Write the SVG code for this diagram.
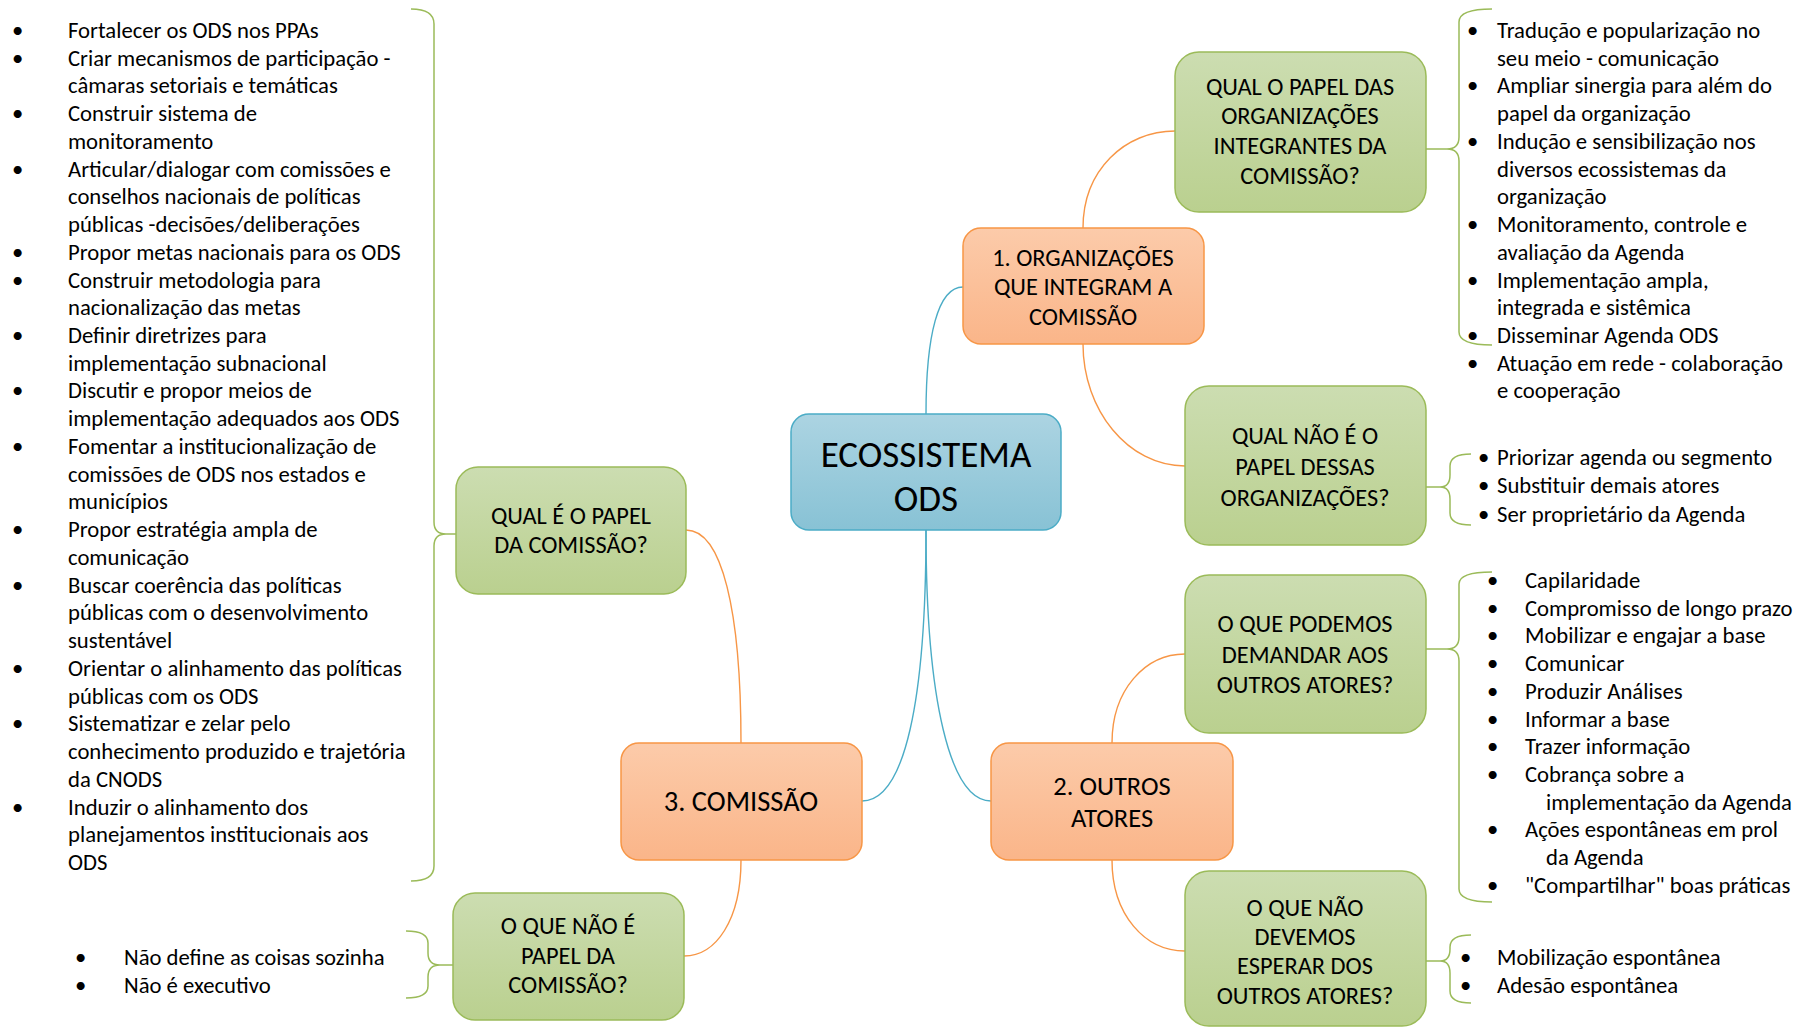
<svg xmlns="http://www.w3.org/2000/svg" width="1802" height="1028" viewBox="0 0 1802 1028">
<defs>
<linearGradient id="gGreen" x1="0" y1="0" x2="0" y2="1"><stop offset="0" stop-color="#CCDDB1"/><stop offset="1" stop-color="#BAD08F"/></linearGradient>
<linearGradient id="gOrange" x1="0" y1="0" x2="0" y2="1"><stop offset="0" stop-color="#FCCBAA"/><stop offset="1" stop-color="#FAB589"/></linearGradient>
<linearGradient id="gBlue" x1="0" y1="0" x2="0" y2="1"><stop offset="0" stop-color="#ACD4E2"/><stop offset="1" stop-color="#88C2D5"/></linearGradient>
<style>
text{font-family:Carlito,Lato,"Liberation Sans",sans-serif;fill:#000}
.g{fill:url(#gGreen);stroke:#9BBB59;stroke-width:1.5}
.o{fill:url(#gOrange);stroke:#F79646;stroke-width:1.5}
.b{fill:url(#gBlue);stroke:#4BACC6;stroke-width:1.5}
.lbl{font-size:24.4px;text-anchor:middle}
.lb{font-size:22.7px}
.cb{fill:none;stroke:#4BACC6;stroke-width:1.4}
.co{fill:none;stroke:#F79646;stroke-width:1.4}
.br{fill:none;stroke:#9BBB59;stroke-width:1.5}
</style>
</defs>
<rect width="1802" height="1028" fill="#fff"/>

<g id="connectors">
<path class="cb" d="M926 414 C926 335 938 287 963 287"/>
<path class="cb" d="M926 530 C926 700 905 801 862 801"/>
<path class="cb" d="M926 530 C926 700 950 801 991 801"/>
<path class="co" d="M1083 228 C1083 170 1125 131 1175 131"/>
<path class="co" d="M1083 344 C1083 410 1128 466 1185 466"/>
<path class="co" d="M1112 743 C1112 690 1145 654 1185 654"/>
<path class="co" d="M1112 860 C1112 915 1145 951 1185 951"/>
<path class="co" d="M741 743 C741 610 722 530 686 530"/>
<path class="co" d="M741 860 C741 920 716 956 684 956"/>
</g>

<g id="braces">
<path class="br" d="M411 9 Q434 9 434 24 L434 522 Q434 534 446 534 Q434 534 434 546 L434 866 Q434 881 411 881 M446 534 L456 534"/>
<path class="br" d="M406 931 Q428 931 428 943 L428 953 Q428 965 440 965 Q428 965 428 977 L428 986 Q428 998 406 998 M440 965 L453 965"/>
<path class="br" d="M1492 9 Q1459 9 1459 22 L1459 137 Q1459 149 1447 149 Q1459 149 1459 161 L1459 332 Q1459 345 1492 345 M1447 149 L1426 149"/>
<path class="br" d="M1471 454 Q1450 454 1450 466 L1450 475 Q1450 487 1440 487 Q1450 487 1450 499 L1450 513 Q1450 525 1471 525 M1440 487 L1426 487"/>
<path class="br" d="M1492 572 Q1459 572 1459 584 L1459 637 Q1459 649 1447 649 Q1459 649 1459 661 L1459 889 Q1459 902 1492 902 M1447 649 L1426 649"/>
<path class="br" d="M1471 935 Q1450 935 1450 947 L1450 949 Q1450 961 1440 961 Q1450 961 1450 973 L1450 991 Q1450 1003 1471 1003 M1440 961 L1426 961"/>
</g>

<g id="eco">
<rect class="b" x="791" y="414" width="270" height="116" rx="18"/>
<text x="926" y="467" style="font-size:37px;text-anchor:middle">ECOSSISTEMA</text>
<text x="926" y="511" style="font-size:37px;text-anchor:middle">ODS</text>
</g>

<g id="org">
<rect class="o" x="963" y="228" width="241" height="116" rx="18"/>
<text class="lbl" x="1083" y="266">1. ORGANIZAÇÕES</text>
<text class="lbl" x="1083" y="295">QUE INTEGRAM A</text>
<text class="lbl" x="1083" y="325">COMISSÃO</text>
</g>

<g id="papel-org">
<rect class="g" x="1175" y="52" width="251" height="160" rx="24"/>
<text class="lbl" x="1300" y="95">QUAL O PAPEL DAS</text>
<text class="lbl" x="1300" y="124">ORGANIZAÇÕES</text>
<text class="lbl" x="1300" y="154">INTEGRANTES DA</text>
<text class="lbl" x="1300" y="184">COMISSÃO?</text>
</g>

<g id="nao-papel-org">
<rect class="g" x="1185" y="386" width="241" height="159" rx="24"/>
<text class="lbl" x="1305" y="444">QUAL NÃO É O</text>
<text class="lbl" x="1305" y="475">PAPEL DESSAS</text>
<text class="lbl" x="1305" y="506">ORGANIZAÇÕES?</text>
</g>

<g id="outros">
<rect class="o" x="991" y="743" width="242" height="117" rx="18"/>
<text x="1112" y="795" style="font-size:26.5px;text-anchor:middle">2. OUTROS</text>
<text x="1112" y="827" style="font-size:26.5px;text-anchor:middle">ATORES</text>
</g>

<g id="demandar">
<rect class="g" x="1185" y="575" width="241" height="158" rx="24"/>
<text class="lbl" x="1305" y="632">O QUE PODEMOS</text>
<text class="lbl" x="1305" y="663">DEMANDAR AOS</text>
<text class="lbl" x="1305" y="693">OUTROS ATORES?</text>
</g>

<g id="nao-esperar">
<rect class="g" x="1185" y="871" width="241" height="155" rx="24"/>
<text class="lbl" x="1305" y="916">O QUE NÃO</text>
<text class="lbl" x="1305" y="945">DEVEMOS</text>
<text class="lbl" x="1305" y="974">ESPERAR DOS</text>
<text class="lbl" x="1305" y="1004">OUTROS ATORES?</text>
</g>

<g id="comissao">
<rect class="o" x="621" y="743" width="241" height="117" rx="18"/>
<text x="741" y="811" style="font-size:28.5px;text-anchor:middle">3. COMISSÃO</text>
</g>

<g id="papel-comissao">
<rect class="g" x="456" y="467" width="230" height="127" rx="22"/>
<text class="lbl" x="571" y="524">QUAL É O PAPEL</text>
<text class="lbl" x="571" y="553">DA COMISSÃO?</text>
</g>

<g id="nao-papel-comissao">
<rect class="g" x="453" y="893" width="231" height="127" rx="22"/>
<text class="lbl" x="568" y="934">O QUE NÃO É</text>
<text class="lbl" x="568" y="964">PAPEL DA</text>
<text class="lbl" x="568" y="993">COMISSÃO?</text>
</g>

<g id="list-comissao">
<text class="lb" x="12" y="38">•</text><text class="lb" x="68" y="38">Fortalecer os ODS nos PPAs</text>
<text class="lb" x="12" y="66">•</text><text class="lb" x="68" y="66">Criar mecanismos de participação -</text>
<text class="lb" x="68" y="93">câmaras setoriais e temáticas</text>
<text class="lb" x="12" y="121">•</text><text class="lb" x="68" y="121">Construir sistema de</text>
<text class="lb" x="68" y="149">monitoramento</text>
<text class="lb" x="12" y="177">•</text><text class="lb" x="68" y="177">Articular/dialogar com comissões e</text>
<text class="lb" x="68" y="204">conselhos nacionais de políticas</text>
<text class="lb" x="68" y="232">públicas -decisões/deliberações</text>
<text class="lb" x="12" y="260">•</text><text class="lb" x="68" y="260">Propor metas nacionais para os ODS</text>
<text class="lb" x="12" y="288">•</text><text class="lb" x="68" y="288">Construir metodologia para</text>
<text class="lb" x="68" y="315">nacionalização das metas</text>
<text class="lb" x="12" y="343">•</text><text class="lb" x="68" y="343">Definir diretrizes para</text>
<text class="lb" x="68" y="371">implementação subnacional</text>
<text class="lb" x="12" y="398">•</text><text class="lb" x="68" y="398">Discutir e propor meios de</text>
<text class="lb" x="68" y="426">implementação adequados aos ODS</text>
<text class="lb" x="12" y="454">•</text><text class="lb" x="68" y="454">Fomentar a institucionalização de</text>
<text class="lb" x="68" y="482">comissões de ODS nos estados e</text>
<text class="lb" x="68" y="509">municípios</text>
<text class="lb" x="12" y="537">•</text><text class="lb" x="68" y="537">Propor estratégia ampla de</text>
<text class="lb" x="68" y="565">comunicação</text>
<text class="lb" x="12" y="593">•</text><text class="lb" x="68" y="593">Buscar coerência das políticas</text>
<text class="lb" x="68" y="620">públicas com o desenvolvimento</text>
<text class="lb" x="68" y="648">sustentável</text>
<text class="lb" x="12" y="676">•</text><text class="lb" x="68" y="676">Orientar o alinhamento das políticas</text>
<text class="lb" x="68" y="704">públicas com os ODS</text>
<text class="lb" x="12" y="731">•</text><text class="lb" x="68" y="731">Sistematizar e zelar pelo</text>
<text class="lb" x="68" y="759">conhecimento produzido e trajetória</text>
<text class="lb" x="68" y="787">da CNODS</text>
<text class="lb" x="12" y="815">•</text><text class="lb" x="68" y="815">Induzir o alinhamento dos</text>
<text class="lb" x="68" y="842">planejamentos institucionais aos</text>
<text class="lb" x="68" y="870">ODS</text>
</g>

<g id="list-nao-comissao">
<text class="lb" x="75" y="965">•</text><text class="lb" x="124" y="965">Não define as coisas sozinha</text>
<text class="lb" x="75" y="993">•</text><text class="lb" x="124" y="993">Não é executivo</text>
</g>

<g id="list-papel-org">
<text class="lb" x="1467" y="38">•</text><text class="lb" x="1497" y="38">Tradução e popularização no</text>
<text class="lb" x="1497" y="66">seu meio - comunicação</text>
<text class="lb" x="1467" y="93">•</text><text class="lb" x="1497" y="93">Ampliar sinergia para além do</text>
<text class="lb" x="1497" y="121">papel da organização</text>
<text class="lb" x="1467" y="149">•</text><text class="lb" x="1497" y="149">Indução e sensibilização nos</text>
<text class="lb" x="1497" y="177">diversos ecossistemas da</text>
<text class="lb" x="1497" y="204">organização</text>
<text class="lb" x="1467" y="232">•</text><text class="lb" x="1497" y="232">Monitoramento, controle e</text>
<text class="lb" x="1497" y="260">avaliação da Agenda</text>
<text class="lb" x="1467" y="288">•</text><text class="lb" x="1497" y="288">Implementação ampla,</text>
<text class="lb" x="1497" y="315">integrada e sistêmica</text>
<text class="lb" x="1467" y="343">•</text><text class="lb" x="1497" y="343">Disseminar Agenda ODS</text>
<text class="lb" x="1467" y="371">•</text><text class="lb" x="1497" y="371">Atuação em rede - colaboração</text>
<text class="lb" x="1497" y="398">e cooperação</text>
</g>

<g id="list-nao-papel-org">
<text class="lb" x="1478" y="465">•</text><text class="lb" x="1497" y="465">Priorizar agenda ou segmento</text>
<text class="lb" x="1478" y="493">•</text><text class="lb" x="1497" y="493">Substituir demais atores</text>
<text class="lb" x="1478" y="522">•</text><text class="lb" x="1497" y="522">Ser proprietário da Agenda</text>
</g>

<g id="list-demandar">
<text class="lb" x="1487" y="588">•</text><text class="lb" x="1525" y="588">Capilaridade</text>
<text class="lb" x="1487" y="616">•</text><text class="lb" x="1525" y="616">Compromisso de longo prazo</text>
<text class="lb" x="1487" y="643">•</text><text class="lb" x="1525" y="643">Mobilizar e engajar a base</text>
<text class="lb" x="1487" y="671">•</text><text class="lb" x="1525" y="671">Comunicar</text>
<text class="lb" x="1487" y="699">•</text><text class="lb" x="1525" y="699">Produzir Análises</text>
<text class="lb" x="1487" y="727">•</text><text class="lb" x="1525" y="727">Informar a base</text>
<text class="lb" x="1487" y="754">•</text><text class="lb" x="1525" y="754">Trazer informação</text>
<text class="lb" x="1487" y="782">•</text><text class="lb" x="1525" y="782">Cobrança sobre a</text>
<text class="lb" x="1546" y="810">implementação da Agenda</text>
<text class="lb" x="1487" y="837">•</text><text class="lb" x="1525" y="837">Ações espontâneas em prol</text>
<text class="lb" x="1546" y="865">da Agenda</text>
<text class="lb" x="1487" y="893">•</text><text class="lb" x="1525" y="893">"Compartilhar" boas práticas</text>
</g>

<g id="list-nao-esperar">
<text class="lb" x="1460" y="965">•</text><text class="lb" x="1497" y="965">Mobilização espontânea</text>
<text class="lb" x="1460" y="993">•</text><text class="lb" x="1497" y="993">Adesão espontânea</text>
</g>
</svg>
